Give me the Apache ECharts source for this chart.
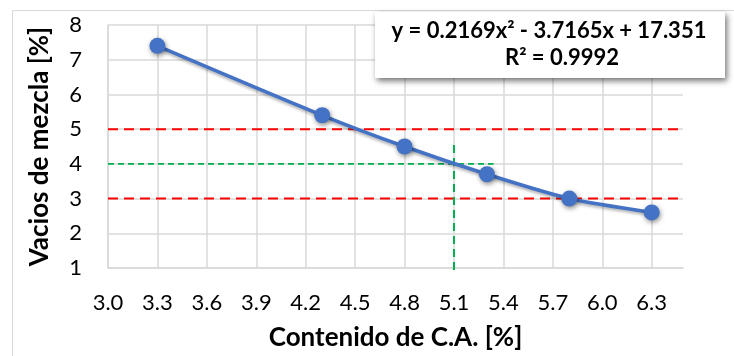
<!DOCTYPE html>
<html>
<head>
<meta charset="utf-8">
<script src="https://cdn.jsdelivr.net/npm/echarts@6/dist/echarts.min.js"></script>
<style>html,body{margin:0;padding:0;background:#fff;}#c{width:734px;height:356px;}</style>
</head>
<body>
<div id="c"></div>
<script>
// Data
var contenidoCA = [3.3, 4.3, 4.8, 5.3, 5.8, 6.3];
var vacios = [7.4, 5.4, 4.5, 3.7, 3.0, 2.6];
var limiteSuperior = [[3.0, 5], [6.59, 5]];
var limiteInferior = [[3.0, 3], [6.59, 3]];
var guiaHorizontal = [[3.0, 4], [5.34, 4]];
var guiaVertical = [[5.1, 4.54], [5.1, 0.8]];
var xTickMin = 3.0, xTickMax = 6.49, xStep = 0.3;
var yTickMin = 1, yTickMax = 8, yStep = 1;
var ecuacion = 'y = 0.2169x² - 3.7165x + 17.351';
var r2 = 'R² = 0.9992';
var xTitle = 'Contenido de C.A. [%]';
var yTitle = 'Vacios de mezcla [%]';

var FONT = 'Lato';
var gridColors = [];
for (var i = 0; i < 12; i++) gridColors.push('#d9d9d9');
gridColors.push('rgba(0,0,0,0)');

var chart = echarts.init(document.getElementById('c'), null, {renderer: 'canvas'});
chart.setOption({
  animation: false,
  backgroundColor: '#fff',
  grid: {left: 108, top: 25, width: 575, height: 243, containLabel: false},
  xAxis: {
    type: 'value', min: xTickMin, max: xTickMax, interval: xStep,
    name: xTitle, nameLocation: 'middle', nameGap: 57,
    nameTextStyle: {fontFamily: FONT, fontWeight: 'bold', fontSize: 26, color: '#000'},
    axisLine: {show: true, lineStyle: {color: '#d9d9d9', width: 1.5}},
    axisTick: {show: false},
    axisLabel: {fontFamily: FONT, fontSize: 22, color: '#000', margin: 24, showMaxLabel: false,
      formatter: function (v) { return v.toFixed(1); }},
    splitLine: {show: true, lineStyle: {color: gridColors, width: 1.5}}
  },
  yAxis: {
    type: 'value', min: yTickMin, max: yTickMax, interval: yStep,
    name: yTitle, nameLocation: 'middle', nameGap: 55,
    nameTextStyle: {fontFamily: FONT, fontWeight: 'bold', fontSize: 26, color: '#000'},
    axisLine: {show: true, lineStyle: {color: '#d9d9d9', width: 1.5}},
    axisTick: {show: false},
    axisLabel: {fontFamily: FONT, fontSize: 22, color: '#000', margin: 26},
    splitLine: {show: true, lineStyle: {color: '#d9d9d9', width: 1.5}}
  },
  series: [
    {type: 'line', data: limiteSuperior, clip: false, silent: true, symbol: 'none', z: 3,
      lineStyle: {color: '#ff0000', width: 2, type: [10, 6]}},
    {type: 'line', data: limiteInferior, clip: false, silent: true, symbol: 'none', z: 3,
      lineStyle: {color: '#ff0000', width: 2, type: [10, 6]}},
    {type: 'line', data: guiaHorizontal, clip: false, silent: true, symbol: 'none', z: 3,
      lineStyle: {color: '#00b050', width: 1.8, type: [6, 4]}},
    {type: 'line', data: guiaVertical, clip: false, silent: true, symbol: 'none', z: 3,
      lineStyle: {color: '#00b050', width: 2, type: [8, 5]}},
    {type: 'line', data: contenidoCA.map(function (x, i) { return [x, vacios[i]]; }),
      smooth: 0.25, z: 5, symbol: 'circle', symbolSize: 16,
      itemStyle: {color: '#4472c4', shadowBlur: 5, shadowColor: 'rgba(0,0,0,0.45)', shadowOffsetX: 1, shadowOffsetY: 2},
      lineStyle: {color: '#4472c4', width: 3.5, shadowBlur: 3, shadowColor: 'rgba(0,0,0,0.3)', shadowOffsetY: 2}}
  ],
  graphic: [
    {type: 'rect', left: 10, top: 8, z: -10, silent: true,
      shape: {x: 0.5, y: 0.5, width: 740, height: 360},
      style: {fill: 'none', stroke: '#d9d9d9', lineWidth: 1}},
    {type: 'rect', left: 375, top: 12, z: 100, zlevel: 1, silent: true,
      shape: {x: 0, y: 0, width: 350, height: 66},
      style: {fill: '#fff', shadowBlur: 6, shadowColor: 'rgba(0,0,0,0.55)', shadowOffsetX: 2, shadowOffsetY: 3}},
    {type: 'text', x: 549, y: 31, z: 101, zlevel: 1, silent: true,
      style: {text: ecuacion, font: 'bold 22px Lato', fill: '#000', align: 'center', verticalAlign: 'middle'}},
    {type: 'text', x: 562, y: 58, z: 101, zlevel: 1, silent: true,
      style: {text: r2, font: 'bold 22px Lato', fill: '#000', align: 'center', verticalAlign: 'middle'}}
  ]
});
</script>
</body>
</html>
